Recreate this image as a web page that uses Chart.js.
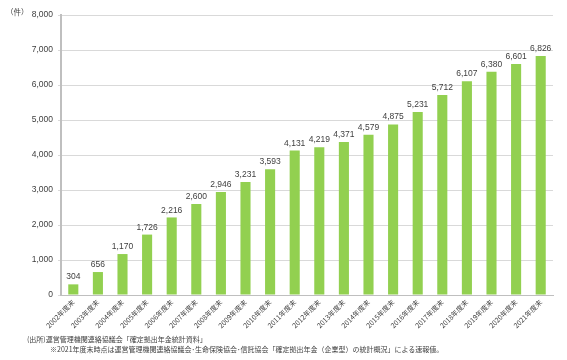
<!DOCTYPE html>
<html><head><meta charset="utf-8">
<script src="https://cdn.jsdelivr.net/npm/chart.js@4"></script>
<style>
html,body{margin:0;padding:0;background:#fff;}
#wrap{position:relative;width:567px;height:360px;font-family:"Noto Sans CJK JP","Noto Sans",sans-serif;color:#404040;}
#c{position:absolute;left:0;top:0;}
.t{position:absolute;font-size:7px;white-space:nowrap;line-height:1;}
</style></head><body>
<div id="wrap">
<canvas id="c" width="567" height="360"></canvas>
<div class="t" style="left:6px;top:8px;font-size:7.5px;">（件）</div>
<div class="t" style="left:27px;top:336px;">(出所)運営管理機関連絡協議会「確定拠出年金統計資料」</div>
<div class="t" style="left:50px;top:346px;">※2021年度末時点は運営管理機関連絡協議会･生命保険協会･信託協会「確定拠出年金（企業型）の統計概況」による速報値。</div>
</div>
<script>
const categories = ["2002年度末","2003年度末","2004年度末","2005年度末","2006年度末","2007年度末","2008年度末","2009年度末","2010年度末","2011年度末","2012年度末","2013年度末","2014年度末","2015年度末","2016年度末","2017年度末","2018年度末","2019年度末","2020年度末","2021年度末"];
const counts = [304,656,1170,1726,2216,2600,2946,3231,3593,4131,4219,4371,4579,4875,5231,5712,6107,6380,6601,6826];
const yTicks = [0,1000,2000,3000,4000,5000,6000,7000,8000];

const labelPlugin = {
  id:'barLabels',
  afterDatasetsDraw(chart){
    const ctx = chart.ctx;
    const meta = chart.getDatasetMeta(0);
    ctx.save();
    ctx.font = '8.5px "Liberation Sans", "DejaVu Sans", sans-serif';
    ctx.fillStyle = '#404040';
    ctx.textAlign = 'center';
    ctx.textBaseline = 'bottom';
    meta.data.forEach((el,i)=>{
      ctx.fillText(counts[i].toLocaleString('en-US'), el.x, el.y - 3);
    });
    ctx.restore();
  }
};

new Chart(document.getElementById('c'), {
  type:'bar',
  data:{labels:categories, datasets:[{data:counts, backgroundColor:'#92d050', borderWidth:0, barPercentage:0.41, categoryPercentage:1}]},
  options:{
    responsive:false, animation:false,
    layout:{padding:{left:0,right:14,top:15,bottom:0}},
    plugins:{legend:{display:false}, tooltip:{enabled:false}},
    scales:{
      x:{
        grid:{display:false, drawTicks:true, tickLength:3},
        border:{color:'#bfbfbf', width:1},
        ticks:{maxRotation:45, minRotation:45, autoSkip:false, color:'#404040', padding:0,
          font:{size:7, family:'"Noto Sans CJK JP", sans-serif'}},
        afterFit(s){ s.height = 65; }
      },
      y:{
        min:0, max:8000,
        afterBuildTicks(s){ s.ticks = yTicks.map(v=>({value:v})); },
        grid:{color:'#d9d9d9', lineWidth:1, tickLength:3},
        border:{color:'#bfbfbf', width:2},
        ticks:{color:'#404040', padding:5, font:{size:8.5, family:'"Liberation Sans", sans-serif'},
          callback:(v)=>Number(v).toLocaleString('en-US')},
        afterFit(s){ s.width = 61; }
      }
    }
  },
  plugins:[labelPlugin]
});
</script>
</body></html>
